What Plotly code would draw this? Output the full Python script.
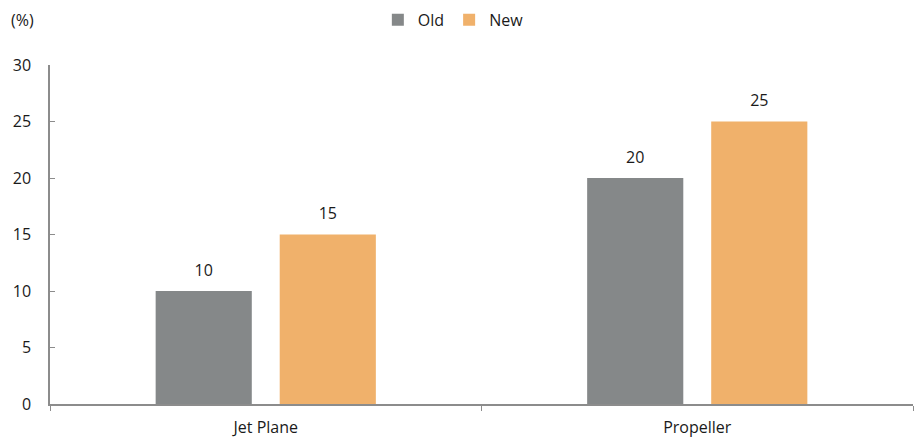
import plotly.graph_objects as go

categories = ["Jet Plane", "Propeller"]
old_values = [10, 20]
new_values = [15, 25]
y_ticks = [0, 5, 10, 15, 20, 25, 30]

FONT = "Open Sans, Liberation Sans, sans-serif"
AX = "#8c8c8c"
LBL = "<span style='font-size:16px'>%{y}</span><br> "

fig = go.Figure()
fig.add_trace(go.Bar(name="Old", x=categories, y=old_values, marker_color="#858889",
                     marker_line_width=0, texttemplate=LBL, textposition="outside",
                     textfont=dict(size=8, color="#1a1a1a"), cliponaxis=False,
                     constraintext="none"))
fig.add_trace(go.Bar(name="New", x=categories, y=new_values, marker_color="#F0B16B",
                     marker_line_width=0, texttemplate=LBL, textposition="outside",
                     textfont=dict(size=8, color="#1a1a1a"), cliponaxis=False,
                     constraintext="none"))

fig.update_layout(
    width=914, height=440,
    margin=dict(l=50, r=1, t=65, b=36),
    paper_bgcolor="white", plot_bgcolor="white",
    font=dict(family=FONT, size=16, color="#1a1a1a"),
    barmode="group", bargap=0.425, bargroupgap=0.225,
    showlegend=True,
    legend=dict(orientation="h", xref="container", yref="container",
                x=0.496, xanchor="center", y=0.955, yanchor="middle",
                font=dict(size=16), traceorder="normal", itemwidth=30),
    xaxis=dict(showline=True, linecolor=AX, linewidth=1.5, ticks="outside",
               tickson="boundaries", tickcolor=AX, ticklen=5, showgrid=False,
               tickfont=dict(size=16), ticklabelstandoff=8),
    yaxis=dict(range=[0, 30], tickvals=y_ticks, showline=True, linecolor=AX,
               linewidth=1.5, ticks="inside", tickcolor=AX, ticklen=5,
               showgrid=False, zeroline=False, tickfont=dict(size=16),
               ticklabelstandoff=14),
    annotations=[dict(text="(%)", xref="paper", yref="paper", x=0, y=1.133,
                      xanchor="right", yanchor="middle", xshift=-14, showarrow=False,
                      font=dict(size=16))],
)

fig.write_html("out.html")
